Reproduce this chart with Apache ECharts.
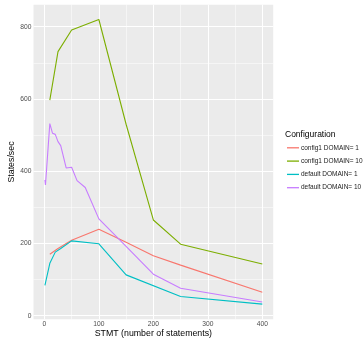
<!DOCTYPE html>
<html>
<head>
<meta charset="utf-8">
<script src="https://cdn.jsdelivr.net/npm/echarts@6/dist/echarts.min.js"></script>
<style>
    html, body { margin: 0; padding: 0; background: #fff; }
    #chart { width: 363px; height: 340px; }
</style>
</head>
<body>
<div id="chart"></div>
<script>
    // values
    var seriesNames = ['config1 DOMAIN= 1', 'config1 DOMAIN= 10', 'default DOMAIN= 1', 'default DOMAIN= 10'];
    var seriesColors = ['#F8766D', '#7CAE00', '#00BFC4', '#C77CFF'];

    var config1Stmt = [10, 25, 50, 100, 150, 200, 250, 400];
    var config1Dom1 = [170, 186, 209, 239, 203, 166, 140, 65];
    var config1Dom10 = [597, 731, 791, 820, 530, 265, 198, 143];

    var defaultDom1Stmt = [1, 10, 20, 30, 50, 100, 150, 250, 400];
    var defaultDom1 = [84, 145, 176, 186, 207, 199, 113, 53, 32];

    var defaultDom10Stmt = [1, 2, 10, 15, 20, 25, 30, 40, 50, 60, 75, 100, 150, 200, 250, 400];
    var defaultDom10 = [376, 362, 532, 505, 502, 482, 471, 409, 411, 374, 355, 268, 192, 115, 76, 38];

    var xTicks = [0, 100, 200, 300, 400];
    var xMinor = [50, 150, 250, 350];
    var yTicks = [0, 200, 400, 600, 800];
    var yMinor = [100, 300, 500, 700];

    function pairs(xs, ys) {
        return xs.map(function (x, i) { return [x, ys[i]]; });
    }

    var gridLines = [];
    yTicks.forEach(function (v) { gridLines.push({ yAxis: v, lineStyle: { width: 1.07 } }); });
    yMinor.forEach(function (v) { gridLines.push({ yAxis: v, lineStyle: { width: 0.53 } }); });
    xTicks.forEach(function (v) { gridLines.push({ xAxis: v, lineStyle: { width: 1.07 } }); });
    xMinor.forEach(function (v) { gridLines.push({ xAxis: v, lineStyle: { width: 0.53 } }); });

    var lineData = [
        pairs(config1Stmt, config1Dom1),
        pairs(config1Stmt, config1Dom10),
        pairs(defaultDom1Stmt, defaultDom1),
        pairs(defaultDom10Stmt, defaultDom10)
    ];

    var series = [{
        name: 'grid',
        type: 'line',
        data: [],
        z: 1,
        silent: true,
        markLine: {
            z: 1,
            silent: true,
            symbol: ['none', 'none'],
            label: { show: false },
            emphasis: { disabled: true },
            lineStyle: { color: '#ffffff', type: 'solid' },
            data: gridLines
        }
    }];
    seriesNames.forEach(function (name, i) {
        series.push({
            name: name,
            type: 'line',
            data: lineData[i],
            z: 3,
            showSymbol: false,
            symbol: 'none',
            color: seriesColors[i],
            lineStyle: { width: 1.1, color: seriesColors[i] },
            emphasis: { disabled: true }
        });
    });

    var chart = echarts.init(document.getElementById('chart'));
    chart.setOption({
        animation: false,
        textStyle: { fontFamily: 'Liberation Sans' },
        title: {
            text: 'Configuration',
            left: 285,
            top: 130,
            padding: 0,
            textStyle: { fontSize: 8.5, fontWeight: 'normal', color: '#000' }
        },
        legend: {
            data: seriesNames,
            orient: 'vertical',
            left: 287,
            top: 144.3,
            padding: 0,
            icon: 'rect',
            itemWidth: 12,
            itemHeight: 1.3,
            itemGap: 6.3,
            textStyle: { fontSize: 6.5, color: '#1a1a1a', padding: [0, 0, 0, -3] }
        },
        grid: {
            left: 33.5,
            top: 4.7,
            right: 89.8,
            bottom: 20.7,
            outerBoundsMode: 'none',
            containLabel: false,
            show: true,
            backgroundColor: '#EBEBEB',
            borderWidth: 0
        },
        xAxis: {
            type: 'value',
            min: -19.95,
            max: 419.95,
            name: 'STMT (number of statements)',
            nameLocation: 'middle',
            nameGap: 10,
            nameMoveOverlap: false,
            nameTextStyle: { fontSize: 8.8, color: '#000' },
            axisLine: { show: false },
            axisTick: { show: true, length: 2, customValues: xTicks, lineStyle: { color: '#333' } },
            axisLabel: { customValues: xTicks, fontSize: 6.7, color: '#4D4D4D', margin: 1.5 },
            splitLine: { show: false }
        },
        yAxis: {
            type: 'value',
            min: -10,
            max: 861,
            name: 'States/sec',
            nameLocation: 'middle',
            nameGap: 17,
            nameMoveOverlap: false,
            nameRotate: 90,
            nameTextStyle: { fontSize: 8.8, color: '#000' },
            axisLine: { show: false },
            axisTick: { show: true, length: 2, customValues: yTicks, lineStyle: { color: '#333' } },
            axisLabel: { customValues: yTicks, fontSize: 6.7, color: '#4D4D4D', margin: 2 },
            splitLine: { show: false }
        },
        series: series
    });
</script>
</body>
</html>
